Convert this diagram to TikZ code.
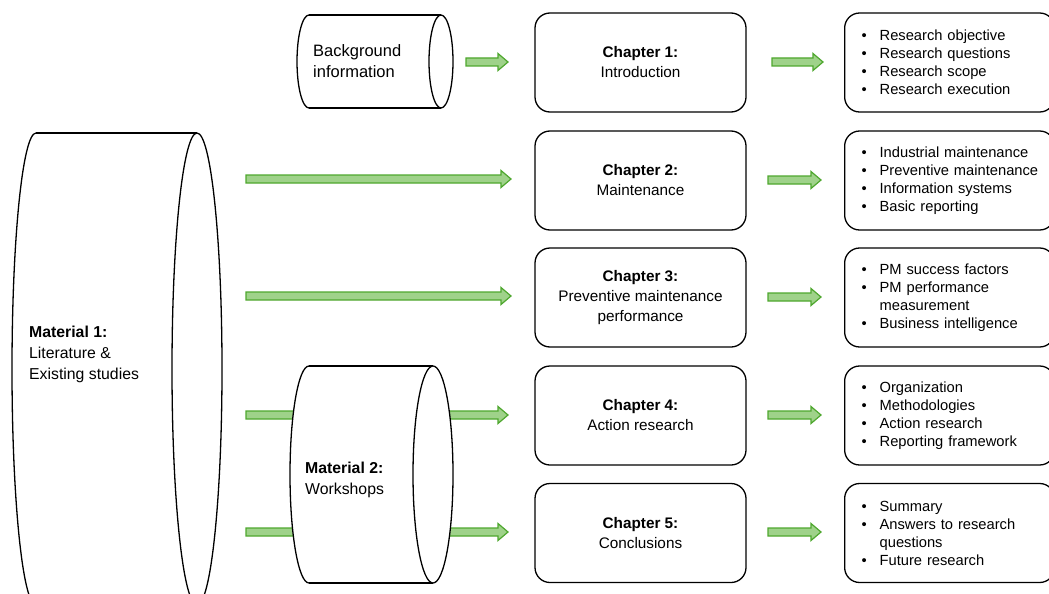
\documentclass[tikz,border=0pt]{standalone}
\usepackage{fontspec}
\setmainfont{Liberation Sans}
\usetikzlibrary{calc}
\definecolor{gfill}{HTML}{9FD28A}
\definecolor{gline}{HTML}{4EA72E}
\tikzset{
  outl/.style={draw=black, line width=1.3pt},
  chap/.style={outl, rounded corners=15pt, minimum width=211pt, minimum height=99pt,
    align=center, inner sep=0pt, font=\fontsize{15.3}{20}\selectfont},
  lbox/.style={outl, rounded corners=15pt, minimum height=99pt, anchor=west,
    text width=176pt, inner xsep=17pt, inner ysep=0pt, align=left,
    font=\fontsize{14.7}{18}\selectfont},
  cyltext/.style={anchor=west, align=left, inner sep=0pt},
  garrow/.style={draw=gline, fill=gfill, line width=1.2pt, line join=miter},
}
\newcommand\bul[1]{\mbox{\makebox[18pt][l]{•}#1}}
\newcommand\ind{\hspace*{18pt}}
\newcommand\fatarrow[2]{\draw[garrow] let \p1=(#1), \p2=(#2) in
  (\x1,\y1+4pt) -- (\x2-10pt,\y1+4pt) -- (\x2-10pt,\y1+8.5pt) -- (\x2,\y1)
  -- (\x2-10pt,\y1-8.5pt) -- (\x2-10pt,\y1-4pt) -- (\x1,\y1-4pt) -- cycle;}
\begin{document}
\begin{tikzpicture}[x=1pt,y=-1pt]
\useasboundingbox (0,0) rectangle (1049,594);
\clip (0,0) rectangle (1049,594);

% chapter boxes
\node[chap] (ch1) at (640.5,62.5) {\textbf{Chapter 1:}\\Introduction};
\node[chap] (ch2) at (640.5,180.5) {\textbf{Chapter 2:}\\Maintenance};
\node[chap] (ch3) at (640.5,297.5) {\textbf{Chapter 3:}\\Preventive maintenance\\performance};
\node[chap] (ch4) at (640.5,415.5) {\textbf{Chapter 4:}\\Action research};
\node[chap] (ch5) at (640.5,533) {\textbf{Chapter 5:}\\Conclusions};

% list boxes
\node[lbox] (l1) at (844,62.5) {\bul{Research objective}\\\bul{Research questions}\\\bul{Research scope}\\\bul{Research execution}};
\node[lbox] (l2) at (844,180.5) {\bul{Industrial maintenance}\\\bul{Preventive maintenance}\\\bul{Information systems}\\\bul{Basic reporting}};
\node[lbox] (l3) at (844,297.5) {\bul{PM success factors}\\\bul{PM performance}\\\ind measurement\\\bul{Business intelligence}};
\node[lbox] (l4) at (844,415.5) {\bul{Organization}\\\bul{Methodologies}\\\bul{Action research}\\\bul{Reporting framework}};
\node[lbox] (l5) at (844,533) {\bul{Summary}\\\bul{Answers to research}\\\ind questions\\\bul{Future research}};

% arrow end points
\coordinate (bgo) at (466,62);   \coordinate (ch1i) at (508,62);
\coordinate (c1o) at (772,62);   \coordinate (l1i) at (823,62);
\coordinate (m1a) at (246,179);  \coordinate (ch2i) at (511,179);
\coordinate (c2o) at (768,180);  \coordinate (l2i) at (821,180);
\coordinate (m1b) at (246,296);  \coordinate (ch3i) at (511,296);
\coordinate (c3o) at (768,297);  \coordinate (l3i) at (821,297);
\coordinate (m1c) at (246,415);  \coordinate (m2a) at (320,415);
\coordinate (m2o1) at (445,415); \coordinate (ch4i) at (508,415);
\coordinate (c4o) at (768,415);  \coordinate (l4i) at (821,415);
\coordinate (m1d) at (246,532);  \coordinate (m2b) at (320,532);
\coordinate (m2o2) at (445,532); \coordinate (ch5i) at (508,532);
\coordinate (c5o) at (768,532);  \coordinate (l5i) at (821,532);

\fatarrow{bgo}{ch1i}  \fatarrow{c1o}{l1i}
\fatarrow{m1a}{ch2i}  \fatarrow{c2o}{l2i}
\fatarrow{m1b}{ch3i}  \fatarrow{c3o}{l3i}
\fatarrow{m1c}{m2a}   \fatarrow{m2o1}{ch4i} \fatarrow{c4o}{l4i}
\fatarrow{m1d}{m2b}   \fatarrow{m2o2}{ch5i} \fatarrow{c5o}{l5i}

% cylinder: Background information
\fill[white] (309,15) rectangle (441,108);
\fill[white] (309,61.5) ellipse [x radius=12pt, y radius=46.5pt];
\begin{scope}
  \clip (280,0) rectangle (309,130);
  \draw[outl] (309,61.5) ellipse [x radius=12pt, y radius=46.5pt];
\end{scope}
\draw[outl] (309,15) -- (441,15) (309,108) -- (441,108);
\draw[outl, fill=white] (441,61.5) ellipse [x radius=12pt, y radius=46.5pt];
\node[cyltext, font=\fontsize{16.5}{21}\selectfont] (bg) at (313,61) {Background\\information};

% cylinder: Material 1
\fill[white] (36,133) rectangle (197,605);
\fill[white] (36,369) ellipse [x radius=24pt, y radius=236pt];
\begin{scope}
  \clip (0,100) rectangle (36,620);
  \draw[outl] (36,369) ellipse [x radius=24pt, y radius=236pt];
\end{scope}
\draw[outl] (36,133) -- (197,133) (36,605) -- (197,605);
\draw[outl, fill=white] (197,369) ellipse [x radius=25pt, y radius=236pt];
\node[cyltext, font=\fontsize{15.8}{21}\selectfont] (m1) at (29,354) {\textbf{Material 1:}\\Literature \&\\Existing studies};

% cylinder: Material 2
\fill[white] (309,366) rectangle (433,583);
\fill[white] (309,474.5) ellipse [x radius=19pt, y radius=108.5pt];
\begin{scope}
  \clip (280,350) rectangle (309,600);
  \draw[outl] (309,474.5) ellipse [x radius=19pt, y radius=108.5pt];
\end{scope}
\draw[outl] (309,366) -- (433,366) (309,583) -- (433,583);
\draw[outl, fill=white] (433,474.5) ellipse [x radius=20pt, y radius=108.5pt];
\node[cyltext, font=\fontsize{15.8}{21}\selectfont] (m2) at (305,479.5) {\textbf{Material 2:}\\Workshops};
\end{tikzpicture}
\end{document}
